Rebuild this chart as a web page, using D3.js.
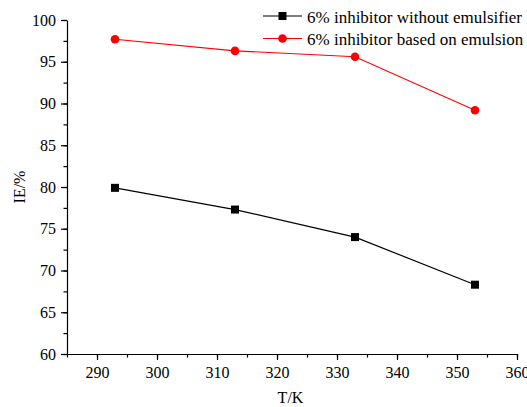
<!DOCTYPE html>
<html><head><meta charset="utf-8">
<script src="https://cdn.jsdelivr.net/npm/d3@7"></script>
<style>body{margin:0;background:#fff}svg{display:block}</style>
</head><body><svg id="c" width="527" height="407"></svg>
<script>
const temps = [293, 313, 333, 353];
const withoutEmulsifier = [79.9, 77.3, 74.0, 68.3];
const basedOnEmulsion = [97.7, 96.3, 95.6, 89.2];
const seriesNames = ["6% inhibitor without emulsifier", "6% inhibitor based on emulsion"];
const xTicks = [290, 300, 310, 320, 330, 340, 350, 360];
const yTicks = [60, 65, 70, 75, 80, 85, 90, 95, 100];

const FONT = '"Liberation Serif", "Times New Roman", serif';
const svg = d3.select("#c");
const L = 67, R = 517, T = 20, B = 354;
const x = d3.scaleLinear().domain([285, 360]).range([L, R]);
const y = d3.scaleLinear().domain([60, 100]).range([B, T]);

// minor ticks
const gx = svg.append("g").attr("transform", `translate(0,${B})`);
gx.call(d3.axisBottom(x).tickValues(d3.range(285, 361, 5)).tickSize(3.5).tickFormat(""));
gx.call(g => g.select(".domain").remove());
const gx2 = svg.append("g").attr("transform", `translate(0,${B})`)
  .call(d3.axisBottom(x).tickValues(xTicks).tickSize(6).tickSizeOuter(0).tickPadding(7));
const gy = svg.append("g").attr("transform", `translate(${L},0)`);
gy.call(d3.axisLeft(y).tickValues(d3.range(60, 100.1, 2.5)).tickSize(3.5).tickFormat(""));
gy.call(g => g.select(".domain").remove());
const gy2 = svg.append("g").attr("transform", `translate(${L},0)`)
  .call(d3.axisLeft(y).tickValues(yTicks).tickSize(6).tickSizeOuter(0).tickPadding(5));
svg.selectAll("g").attr("font-family", null).attr("font-size", null);
svg.selectAll(".tick text").style("font-size", "16px").style("font-family", FONT).attr("fill", "#000");
gx2.selectAll(".tick text").attr("dy", "0.68em");
svg.selectAll(".domain, .tick line").attr("stroke", "#000").attr("stroke-width", 1.2);

const line = d3.line().x((d, i) => x(temps[i])).y(d => y(d));
svg.append("path").datum(withoutEmulsifier).attr("d", line).attr("fill", "none").attr("stroke", "#000").attr("stroke-width", 1.2);
svg.append("path").datum(basedOnEmulsion).attr("d", line).attr("fill", "none").attr("stroke", "#ff0000").attr("stroke-width", 1.1);
svg.selectAll(".sq").data(withoutEmulsifier).enter().append("rect")
  .attr("x", (d, i) => x(temps[i]) - 4).attr("y", d => y(d) - 4).attr("width", 8).attr("height", 8).attr("fill", "#000");
svg.selectAll(".ci").data(basedOnEmulsion).enter().append("circle")
  .attr("cx", (d, i) => x(temps[i])).attr("cy", d => y(d)).attr("r", 4.3).attr("fill", "#ff0000");

// axis titles
svg.append("text").attr("x", 290.5).attr("y", 403).attr("text-anchor", "middle")
  .style("font-size", "16px").style("font-family", FONT).text("T/K");
svg.append("text").attr("transform", `translate(25,${(T + B) / 2}) rotate(-90)`).attr("text-anchor", "middle")
  .style("font-size", "16px").style("font-family", FONT).text("IE/%");

// legend
const leg = svg.append("g");
[["#000", "sq"], ["#ff0000", "ci"]].forEach((s, i) => {
  const ly = 16 + i * 22.5;
  leg.append("line").attr("x1", 263).attr("x2", 302).attr("y1", ly).attr("y2", ly).attr("stroke", s[0]).attr("stroke-width", 1.2);
  if (s[1] === "sq") leg.append("rect").attr("x", 278.5).attr("y", ly - 4).attr("width", 8).attr("height", 8).attr("fill", s[0]);
  else leg.append("circle").attr("cx", 282.5).attr("cy", ly).attr("r", 4.3).attr("fill", s[0]);
  leg.append("text").attr("x", 307).attr("y", ly + 6.5).style("font-size", "17px").style("font-family", FONT).text(seriesNames[i]);
});
</script></body></html>
